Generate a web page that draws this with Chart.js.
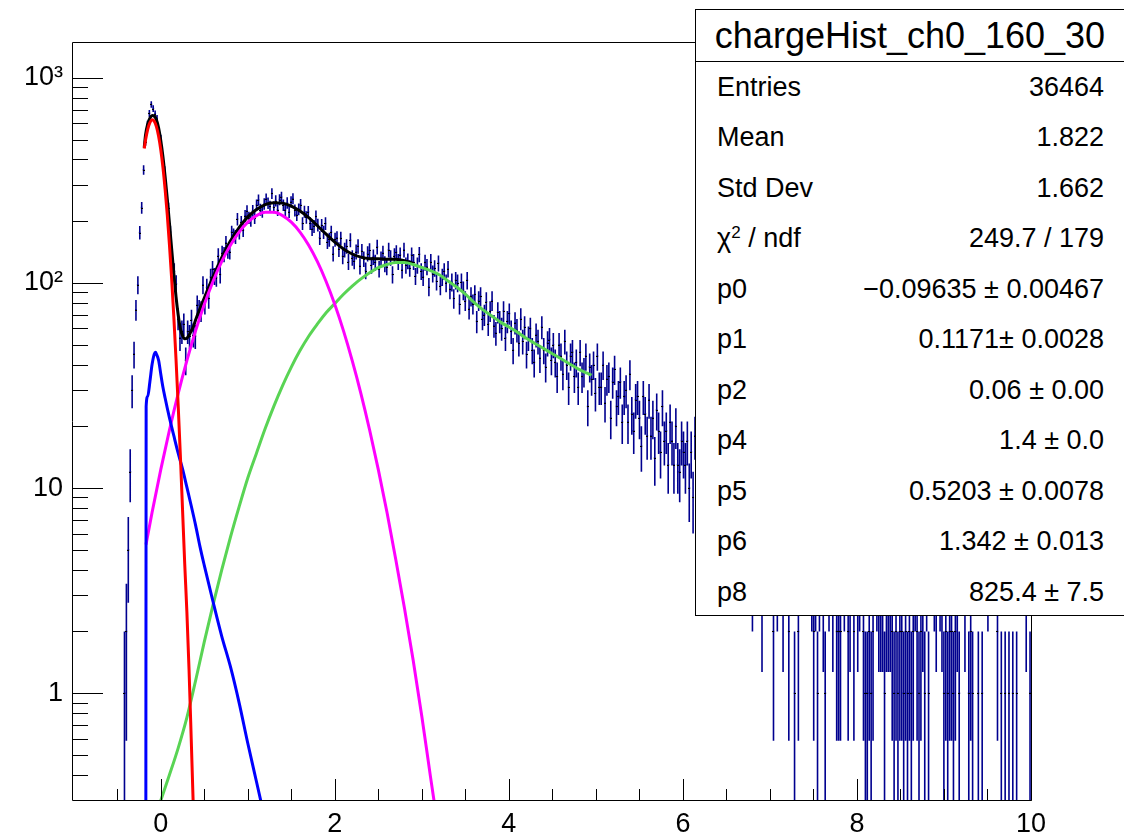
<!DOCTYPE html>
<html>
<head>
<meta charset="utf-8">
<title>chargeHist_ch0_160_30</title>
<script src="https://cdn.jsdelivr.net/npm/chart.js@4.4.0/dist/chart.umd.min.js"></script>
<style>
  html, body { margin: 0; padding: 0; background: #fff; }
  #wrap { position: relative; width: 1124px; height: 838px; overflow: hidden; }
  #stats {
    position: absolute; left: 695px; top: 9px; width: 430px; height: 607px;
    box-sizing: border-box; border: 1px solid #000; background: #fff; overflow: hidden;
    font-family: "Liberation Sans", Arial, sans-serif; color: #000;
  }
  #stats .title { height: 51px; line-height: 51px; border-bottom: 1px solid #000; text-align: center; font-size: 36px; }
  #stats .row { height: 50.5px; display: flex; justify-content: space-between; align-items: center; padding: 0 20px 0 21px; font-size: 27px; }
  #stats sup { font-size: 17px; vertical-align: 9px; line-height: 0; }
</style>
</head>
<body>
<div id="wrap">
  <canvas id="chart" width="1124" height="838"></canvas>
  <div id="stats"></div>
</div>
<script>
// histogram binning (TH1 with 500 bins on [-1, 10])
const histMin = -1, histMax = 10, nBins = 500;

// bin contents, 25 bins per row
const counts = [
  0,0,0,0,0,0,0,0,0,0,0,0,0,0,0,0,0,0,0,0,0,0,0,0,0,
  0,1,2,5,12,30,45,74,98,176,233,356,489,594,671,742,708,668,633,552,505,411,352,268,231,
  177,122,114,99,67,54,58,63,42,58,55,66,56,55,78,74,73,98,79,95,84,107,117,108,106,
  136,110,140,138,157,143,142,177,171,168,205,176,198,181,212,224,208,202,225,208,240,254,228,223,243,
  257,245,236,273,234,252,227,255,262,240,227,246,222,249,258,226,215,229,241,195,223,209,222,195,183,
  189,211,192,166,191,177,195,159,163,177,139,163,166,146,165,135,145,151,127,162,133,128,142,151,121,
  143,131,115,139,144,122,134,126,150,117,131,140,124,120,145,133,110,136,141,127,137,116,145,122,128,
  118,137,127,108,122,138,114,107,126,120,96,127,111,118,102,125,97,107,114,100,117,93,101,84,103,
  100,79,101,92,82,103,75,86,79,88,65,82,86,67,70,81,63,73,82,62,57,72,65,60,73,
  54,65,71,58,47,64,59,51,67,52,61,45,54,60,47,41,56,52,43,61,47,39,51,53,42,
  50,41,35,50,44,36,52,40,31,44,46,35,41,31,46,35,37,44,25,39,34,40,29,44,31,
  31,40,26,34,35,22,33,38,25,28,33,21,28,30,21,36,23,19,27,28,22,16,28,23,18,
  27,18,22,14,24,19,15,25,17,19,13,21,17,13,20,13,12,17,15,13,17,10,15,9,18,
  12,9,14,10,8,11,13,7,10,9,12,8,6,11,9,7,10,8,12,6,9,7,8,10,6,
  7,9,6,8,4,7,5,8,6,3,7,5,6,9,5,2,6,4,5,7,3,5,6,2,5,
  6,1,5,2,7,5,6,5,8,5,4,2,4,1,4,5,3,1,5,4,6,3,5,2,2,
  2,5,4,6,2,3,5,2,6,3,4,5,2,1,1,2,1,2,5,4,3,3,3,1,3,
  3,3,2,1,2,1,2,2,1,2,1,2,1,2,4,2,1,2,3,1,4,1,0,5,4,
  3,0,4,3,1,2,1,2,2,1,2,3,1,0,0,3,0,1,2,1,0,0,1,0,1,
  0,0,4,0,0,0,0,2,0,1,0,1,0,1,0,1,0,1,0,0,0,0,3,0,1
];

// fit components: [x, value]
const blackCurve = [
  [-0.19,457],[-0.175,527],[-0.15,595],[-0.125,635],[-0.1,655],[-0.075,650],[-0.05,625],[-0.025,571],
  [0,495],[0.025,413],[0.05,330],[0.075,257],[0.1,195],[0.125,147],[0.15,111],[0.175,86],[0.2,70],
  [0.225,60],[0.25,55.4],[0.275,53.5],[0.3,53.8],[0.325,55.6],[0.35,58.3],[0.375,61.3],[0.4,65.9],
  [0.5,84.4],[0.6,107],[0.7,133],[0.8,160],[0.9,186],[1.0,210],[1.1,228],[1.2,241],[1.3,246],
  [1.4,245],[1.5,237],[1.6,224],[1.7,208],[1.8,190],[1.9,173],[2.0,158],[2.1,146.5],[2.2,138.4],
  [2.3,133.6],[2.4,131.4],[2.5,131.2],[2.6,130.6],[2.7,130.4],[2.8,128.5],[2.9,124.5]
];
const redCurve = [
  [-0.19,452],[-0.175,497],[-0.15,561],[-0.125,605],[-0.1,624],[-0.075,614],[-0.05,578],[-0.025,519],
  [0,446],[0.025,366],[0.05,286],[0.075,214],[0.1,153],[0.125,105],[0.15,68.4],[0.175,42.7],
  [0.2,25.4],[0.225,14.5],[0.25,7.9],[0.275,4.3],[0.3,2.5],[0.325,1.3],[0.35,0.6],[0.375,0.27],[0.4,0.12]
];
const blueCurve = [
  [-0.172,0.1],[-0.168,25],[-0.15,28],[-0.125,33],[-0.1,40],[-0.075,45],[-0.06,46],[-0.05,45],
  [-0.025,42],[0,36],[0.025,31],[0.05,27.5],[0.075,24.5],[0.1,22],[0.15,18],[0.2,14.8],[0.25,12.4],
  [0.3,10.1],[0.35,8.2],[0.4,6.6],[0.45,5.2],[0.5,4.2],[0.6,2.8],[0.7,1.9],[0.8,1.35],[0.9,0.9],
  [1.0,0.57],[1.1,0.37],[1.2,0.24]
];
const magentaCurve = [
  [-0.17,5.3],[-0.1,7.6],[0,12.3],[0.1,19.2],[0.2,28.9],[0.3,41.8],[0.4,58.4],[0.5,78.5],[0.6,101.7],
  [0.7,127],[0.8,152.7],[0.9,177],[1.0,197.8],[1.1,213],[1.2,221],[1.3,221],[1.4,213],[1.5,197.8],
  [1.6,177],[1.7,152.7],[1.8,127],[1.9,101.7],[2.0,78.5],[2.1,58.4],[2.2,41.8],[2.3,28.9],[2.4,19.2],
  [2.5,12.3],[2.6,7.6],[2.7,4.5],[2.8,2.6],[2.9,1.45],[3.0,0.77],[3.1,0.39],[3.15,0.28]
];
const greenCurve = [
  [0,0.30],[0.1,0.40],[0.2,0.54],[0.3,0.76],[0.4,1.15],[0.5,1.78],[0.6,2.69],[0.7,3.98],[0.8,5.75],
  [0.9,8.1],[1.0,11.2],[1.1,14.8],[1.2,19.5],[1.3,25.1],[1.4,31.6],[1.5,38.9],[1.6,46.8],[1.7,55.0],
  [1.8,63.1],[1.9,71.6],[2.0,79.4],[2.1,88.1],[2.2,96.6],[2.3,104.7],[2.4,112.2],[2.5,118.9],
  [2.6,123.0],[2.7,125.9],[2.8,125.9],[2.9,123.0],[3.0,118.9],[3.1,114.8],[3.2,109.6],[3.3,102.3],
  [3.4,95.5],[3.5,88.1],[3.6,80.4],[3.7,74.1],[3.8,69.2],[3.9,64.6],[4.0,61.0],[4.1,57.5],[4.2,53.7],
  [4.3,50.7],[4.4,47.9],[4.5,45.2],[4.6,42.7],[4.7,40.3],[4.8,38.0],[4.9,36.3],[4.95,35.5]
];

// axis ticks
const xTicks = [-0.5,0,0.5,1,1.5,2,2.5,3,3.5,4,4.5,5,5.5,6,6.5,7,7.5,8,8.5,9,9.5,10];
const xLabelTicks = [0,2,4,6,8,10];
const yTicks = [0.4,0.5,0.6,0.7,0.8,0.9,1,2,3,4,5,6,7,8,9,10,20,30,40,50,60,70,80,90,
                100,200,300,400,500,600,700,800,900,1000];
const yLabels = { 1: '1', 10: '10', 100: '10\u00b2', 1000: '10\u00b3' };

// stats box
const statsTitle = 'chargeHist_ch0_160_30';
const statLabels = ['Entries','Mean','Std Dev','\u03c7<sup>2</sup> / ndf','p0','p1','p2','p4','p5','p6','p8'];
const statValues = ['36464','1.822','1.662','249.7 / 179','\u22120.09635 \u00b1 0.00467','0.1171\u00b1 0.0028',
                    '0.06 \u00b1 0.00','1.4 \u00b1 0.0','0.5203 \u00b1 0.0078','1.342 \u00b1 0.013','825.4 \u00b1 7.5'];

const binWidth = (histMax - histMin) / nBins;
const histPoints = [];
counts.forEach((n, i) => {
  if (n > 0) histPoints.push({ x: histMin + (i + 0.5) * binWidth, y: n });
});
const toXY = c => c.map(p => ({ x: p[0], y: p[1] }));

const statsBox = document.getElementById('stats');
let html = '<div class="title">' + statsTitle + '</div>';
statLabels.forEach((l, i) => {
  html += '<div class="row"><span>' + l + '</span><span>' + statValues[i] + '</span></div>';
});
statsBox.innerHTML = html;

// error bars of the histogram, drawn under the fit curves
const errorBars = {
  id: 'errorBars',
  beforeDatasetsDraw(chart) {
    const { ctx, chartArea: a, scales: { x, y } } = chart;
    ctx.save();
    ctx.beginPath();
    ctx.rect(a.left, a.top, a.right - a.left, a.bottom - a.top);
    ctx.clip();
    ctx.strokeStyle = '#00008f';
    ctx.lineWidth = 1.6;
    ctx.beginPath();
    histPoints.forEach(p => {
      const px = x.getPixelForValue(p.x);
      const err = Math.sqrt(p.y);
      const lo = p.y - err;
      ctx.moveTo(px, y.getPixelForValue(p.y + err));
      ctx.lineTo(px, lo > 0 ? y.getPixelForValue(lo) : a.bottom);
      const yc = y.getPixelForValue(p.y);
      ctx.moveTo(x.getPixelForValue(p.x - binWidth / 2), yc);
      ctx.lineTo(x.getPixelForValue(p.x + binWidth / 2), yc);
    });
    ctx.stroke();
    ctx.fillStyle = '#000';
    histPoints.forEach(p => {
      ctx.fillRect(Math.round(x.getPixelForValue(p.x)) - 1, Math.round(y.getPixelForValue(p.y)), 2, 1);
    });
    ctx.restore();
  }
};

// ROOT style frame with inward ticks
const frame = {
  id: 'frame',
  afterDraw(chart) {
    const { ctx, chartArea: a, scales: { x, y } } = chart;
    ctx.save();
    ctx.strokeStyle = '#000';
    ctx.lineWidth = 1;
    ctx.beginPath();
    ctx.rect(a.left + 0.5, a.top + 0.5, a.right - a.left, a.bottom - a.top);
    xTicks.forEach(v => {
      const px = Math.round(x.getPixelForValue(v)) + 0.5;
      const len = xLabelTicks.includes(v) ? 21 : 11;
      ctx.moveTo(px, a.bottom + 0.5);
      ctx.lineTo(px, a.bottom - len);
    });
    yTicks.forEach(v => {
      const py = Math.round(y.getPixelForValue(v)) + 0.5;
      const len = yLabels[v] ? 31 : 16;
      ctx.moveTo(a.left + 0.5, py);
      ctx.lineTo(a.left + len, py);
    });
    ctx.stroke();
    ctx.restore();
  }
};

Chart.defaults.font.family = "'Liberation Sans', Arial, sans-serif";
Chart.defaults.color = '#000';

const line = (data, color) => ({
  data: toXY(data), showLine: true, borderColor: color, borderWidth: 3,
  pointRadius: 0, fill: false, clip: 0, cubicInterpolationMode: 'monotone'
});

new Chart(document.getElementById('chart'), {
  type: 'scatter',
  data: {
    datasets: [
      { data: histPoints, pointRadius: 0, showLine: false },
      line(redCurve, '#ff0000'),
      line(blueCurve, '#0000ff'),
      line(magentaCurve, '#ff00ff'),
      line(greenCurve, '#59d454'),
      line(blackCurve, '#000000')
    ]
  },
  options: {
    responsive: false,
    animation: false,
    devicePixelRatio: 1,
    layout: { padding: { top: 42, right: 93, left: 0, bottom: 0 } },
    plugins: { legend: { display: false }, tooltip: { enabled: false } },
    scales: {
      x: {
        type: 'linear', min: -1.02, max: 10, bounds: 'data',
        grid: { display: false, drawTicks: false, tickLength: 0 }, border: { display: false },
        afterBuildTicks: s => { s.ticks = xTicks.map(v => ({ value: v })); },
        afterFit: s => { s.height = 38; },
        ticks: {
          autoSkip: false, maxRotation: 0, padding: 8, font: { size: 27 },
          callback: v => xLabelTicks.includes(v) ? String(v) : ''
        }
      },
      y: {
        type: 'logarithmic', min: 0.3016, max: 1495, bounds: 'data',
        grid: { display: false, drawTicks: false, tickLength: 0 }, border: { display: false },
        afterBuildTicks: s => { s.ticks = yTicks.map(v => ({ value: v })); },
        afterFit: s => { s.width = 72; },
        ticks: {
          autoSkip: false, padding: 9, font: { size: 27 },
          callback: v => yLabels[v] || ''
        }
      }
    }
  },
  plugins: [errorBars, frame]
});
</script>
</body>
</html>
